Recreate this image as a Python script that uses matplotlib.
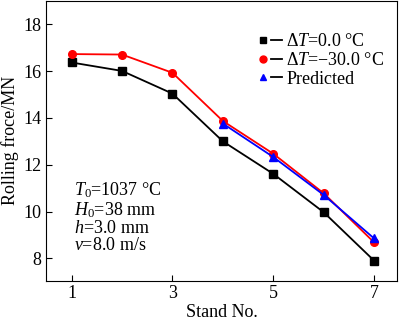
import matplotlib
matplotlib.use("Agg")
import matplotlib.pyplot as plt
from matplotlib.lines import Line2D
from matplotlib.legend_handler import HandlerTuple

plt.rcParams['font.family'] = 'Liberation Serif'
plt.rcParams['mathtext.fontset'] = 'custom'
plt.rcParams['mathtext.rm'] = 'Liberation Serif'
plt.rcParams['mathtext.it'] = 'Liberation Serif:italic'

stands = [1, 2, 3, 4, 5, 6, 7]
force_dt0 = [16.37, 16.01, 15.04, 13.00, 11.61, 9.97, 7.90]
force_dt30 = [16.73, 16.71, 15.93, 13.87, 12.47, 10.78, 8.68]
pred_stands = [4, 5, 6, 7]
force_pred = [13.76, 12.33, 10.71, 8.85]

fig = plt.figure(figsize=(4.0, 3.21), dpi=100)
ax = fig.add_axes([0.116, 0.126, 0.876, 0.871])

ax.plot(stands, force_dt0, c="black", lw=1.3, marker="s", ms=5.5)
ax.plot(stands, force_dt30, c="red", lw=1.3, marker="o", ms=5.5)
ax.plot(pred_stands, force_pred, c="blue", lw=1.3, marker="^", ms=5.5)

ax.set_xlim(0.5, 7.45)
ax.set_ylim(7.05, 19.0)
ax.set_xticks([1, 3, 5, 7])
ax.set_yticks([8, 10, 12, 14, 16, 18])
ax.tick_params(direction="in", labelsize=13, length=4, width=0.8)
ax.set_xlabel("Stand No.", fontsize=13, labelpad=1)
ax.set_ylabel("Rolling froce/MN", fontsize=13, labelpad=3)

dash = Line2D([], [], c="black", lw=1.3)
handles = [
    (Line2D([], [], ls="none", marker="s", ms=5, c="black"), dash),
    (Line2D([], [], ls="none", marker="o", ms=5, c="red"), dash),
    (Line2D([], [], ls="none", marker="^", ms=5, c="blue"), dash),
]
labels = [
    "$\\Delta T$=0.0 \u00b0C",
    "$\\Delta T$=\u221230.0 \u00b0C",
    "Predicted",
]
ax.legend(handles, labels, loc="upper right", bbox_to_anchor=(1.0, 0.93),
          frameon=False, fontsize=13, handlelength=1.4, handletextpad=0.2,
          labelspacing=0.1, borderaxespad=0.3,
          handler_map={tuple: HandlerTuple(ndivide=None, pad=0.1)})

ax.text(0.078, 0.357, "$T_0$=1037 \u00b0C\n$H_0$=38 mm\n$h$=3.0 mm\n$v$=8.0 m/s",
        transform=ax.transAxes, fontsize=13, va="top", ha="left", linespacing=1.0)

fig.savefig("out.png", dpi=100)
